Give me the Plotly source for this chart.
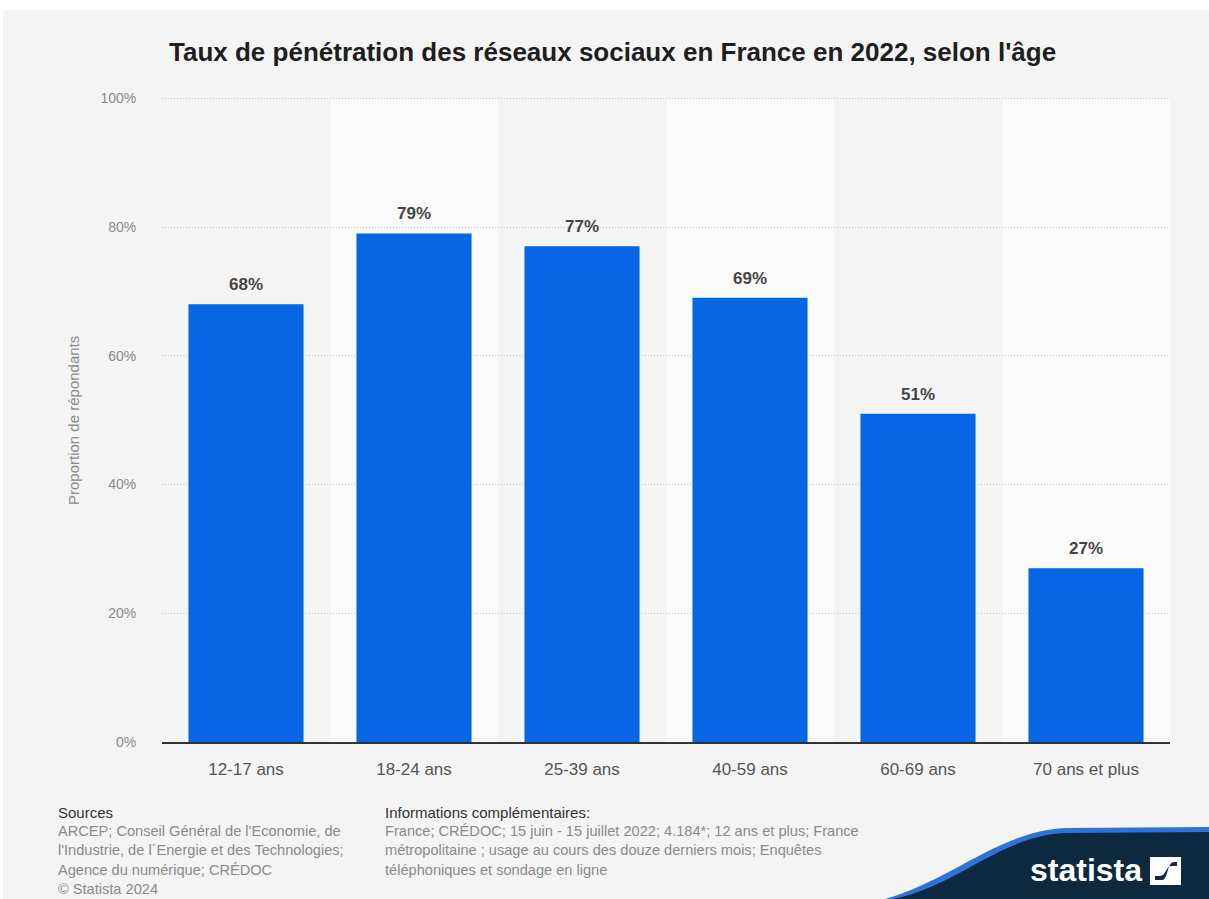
import plotly.graph_objects as go

categories = ["12-17 ans", "18-24 ans", "25-39 ans", "40-59 ans", "60-69 ans", "70 ans et plus"]
values = [68, 79, 77, 69, 51, 27]
y_ticks = [0, 20, 40, 60, 80, 100]

title = "Taux de pénétration des réseaux sociaux en France en 2022, selon l'âge"
y_title = "Proportion de répondants"
sources_lines = [
    "ARCEP; Conseil Général de l'Economie, de",
    "l'Industrie, de l´Energie et des Technologies;",
    "Agence du numérique; CRÉDOC",
    "© Statista 2024",
]
info_lines = [
    "France; CRÉDOC; 15 juin - 15 juillet 2022; 4.184*; 12 ans et plus; France",
    "métropolitaine ; usage au cours des douze derniers mois; Enquêtes",
    "téléphoniques et sondage en ligne",
]

W, H = 1209, 899
L, R, T, B = 162, 39, 97, 157
PW, PH = W - L - R, H - T - B


def px(x):
    return (x - L) / PW


def py(y):
    return (H - B - y) / PH


FONT = "Liberation Sans, Arial, sans-serif"
BAR = "#0766e3"

fig = go.Figure()
fig.add_trace(go.Bar(
    x=categories, y=values, marker=dict(color=BAR, line=dict(width=0)),
    width=0.685, hoverinfo="skip", showlegend=False,
))

shapes = []
# outer white strips
shapes.append(dict(type="rect", xref="paper", yref="paper", x0=px(0), x1=px(W), y0=py(10), y1=py(0),
                   fillcolor="white", line=dict(width=0), layer="below"))
shapes.append(dict(type="rect", xref="paper", yref="paper", x0=px(0), x1=px(3), y0=py(H), y1=py(0),
                   fillcolor="white", line=dict(width=0), layer="below"))
# alternating bands
for i in range(len(categories)):
    if i % 2 == 1:
        shapes.append(dict(type="rect", xref="x", yref="y", x0=i - 0.5, x1=i + 0.5, y0=0, y1=y_ticks[-1],
                           fillcolor="#fafafa", line=dict(width=0), layer="below"))


def wave(dy, dx=0):
    pts = [(893 + dx, 899), (960 + dx, 885 + dy), (1000, 836 + dy), (1065, 833 + dy), (1209, 832 + dy), (1209, 899)]
    return (f"M {px(pts[0][0])},{py(pts[0][1])} "
            f"C {px(pts[1][0])},{py(pts[1][1])} {px(pts[2][0])},{py(pts[2][1])} {px(pts[3][0])},{py(pts[3][1])} "
            f"L {px(pts[4][0])},{py(pts[4][1])} L {px(pts[5][0])},{py(pts[5][1])} Z")


shapes.append(dict(type="path", xref="paper", yref="paper", path=wave(-5, -8), fillcolor="#2c74d8",
                   line=dict(width=0), layer="above"))
shapes.append(dict(type="path", xref="paper", yref="paper", path=wave(0), fillcolor="#0c2940",
                   line=dict(width=0), layer="above"))
# logo icon
shapes.append(dict(type="rect", xref="paper", yref="paper", x0=px(1150), x1=px(1181), y0=py(885), y1=py(857),
                   fillcolor="white", line=dict(width=0), layer="above"))
icon = (f"M {px(1155)},{py(880)} L {px(1162)},{py(880)} C {px(1168)},{py(880)} {px(1167)},{py(862)} {px(1174)},{py(862)} "
        f"L {px(1177)},{py(862)} L {px(1177)},{py(866)} L {px(1171)},{py(866)} "
        f"C {px(1166)},{py(866)} {px(1166)},{py(876)} {px(1160)},{py(876)} L {px(1155)},{py(876)} Z")
shapes.append(dict(type="path", xref="paper", yref="paper", path=icon, fillcolor="#0c2940",
                   line=dict(width=0), layer="above"))

annotations = []
annotations.append(dict(text="<b>" + title + "</b>", xref="paper", yref="paper", x=px(612), y=py(52),
                        xanchor="center", yanchor="middle", showarrow=False,
                        font=dict(family=FONT, size=26, color="#1e1e1e")))
annotations.append(dict(text=y_title, xref="paper", yref="paper", x=px(73), y=py(421), textangle=-90,
                        xanchor="center", yanchor="middle", showarrow=False,
                        font=dict(family=FONT, size=15, color="#8a8a8a")))
for c, v in zip(categories, values):
    annotations.append(dict(text=f"<b>{v}%</b>", x=c, y=v, xref="x", yref="y", yanchor="bottom",
                            yshift=8, showarrow=False, font=dict(family=FONT, size=17, color="#444444")))
annotations.append(dict(text="Sources", xref="paper", yref="paper", x=px(56), y=py(812), xanchor="left",
                        yanchor="middle", showarrow=False, font=dict(family=FONT, size=15, color="#333333")))
for i, line in enumerate(sources_lines):
    annotations.append(dict(text=line, xref="paper", yref="paper", x=px(56), y=py(831 + 19.3 * i),
                            xanchor="left", yanchor="middle", showarrow=False,
                            font=dict(family=FONT, size=14.6, color="#8a8a8a")))
annotations.append(dict(text="Informations complémentaires:", xref="paper", yref="paper", x=px(383), y=py(812),
                        xanchor="left", yanchor="middle", showarrow=False,
                        font=dict(family=FONT, size=15, color="#333333")))
for i, line in enumerate(info_lines):
    annotations.append(dict(text=line, xref="paper", yref="paper", x=px(383), y=py(831 + 19.3 * i),
                            xanchor="left", yanchor="middle", showarrow=False,
                            font=dict(family=FONT, size=14.6, color="#8a8a8a")))
annotations.append(dict(text="<b>statista</b>", xref="paper", yref="paper", x=px(1086), y=py(870),
                        xanchor="center", yanchor="middle", showarrow=False,
                        font=dict(family="Liberation Sans Narrow, Liberation Sans, sans-serif", size=32, color="white")))

fig.update_layout(
    width=W, height=H,
    margin=dict(l=L, r=R, t=T, b=B, autoexpand=False),
    paper_bgcolor="#f4f4f4", plot_bgcolor="rgba(0,0,0,0)",
    shapes=shapes, annotations=annotations,
    font=dict(family=FONT),
    xaxis=dict(
        type="category", showgrid=False, showline=True, linecolor="#333333", linewidth=1.5,
        ticks="outside", ticklen=11, tickcolor="rgba(0,0,0,0)",
        tickfont=dict(family=FONT, size=17, color="#555555"), fixedrange=True,
    ),
    yaxis=dict(
        range=[0, 100.2], tickvals=y_ticks, ticktext=[f"{t}%" for t in y_ticks],
        showgrid=True, gridcolor="#c4c4c4", griddash="1px,2px", gridwidth=1, zeroline=False,
        ticks="outside", ticklen=22, tickcolor="rgba(0,0,0,0)",
        tickfont=dict(family=FONT, size=14, color="#8a8a8a"), fixedrange=True,
    ),
)

fig.write_html("out.html", config={"displayModeBar": False},
               post_script="document.body.style.margin='0';")
